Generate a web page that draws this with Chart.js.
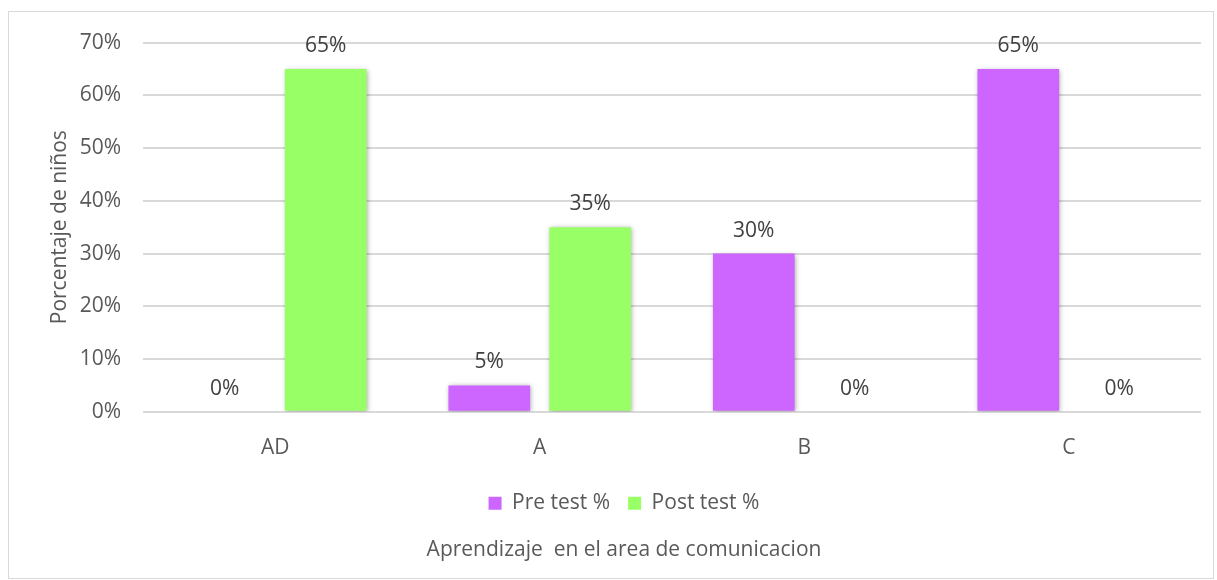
<!DOCTYPE html>
<html>
<head>
<meta charset="utf-8">
<script src="https://cdn.jsdelivr.net/npm/chart.js@4"></script>
<style>
  body { margin: 0; background: #fff; }
  #box {
    position: absolute; left: 8px; top: 11px;
    width: 1204px; height: 566px;
    border: 1px solid #d9d9d9;
  }
  #box canvas { display: block; position: relative; top: -4px; }
</style>
</head>
<body>
<div id="box"><canvas id="chart" width="1204" height="566"></canvas></div>
<script>
// chart data
const categories = ['AD', 'A', 'B', 'C'];
const preTest = [0, 5, 30, 65];
const postTest = [65, 35, 0, 0];
const seriesNames = ['Pre test %', 'Post test %'];
const yTitle = 'Porcentaje de niños';
const xTitle = 'Aprendizaje  en el area de comunicacion';

const FONT = "'Open Sans', sans-serif";
const FSIZE = 21;
const textGrey = '#595959';

// soft shadow under the bars, like the office chart
const barShadow = {
  id: 'barShadow',
  beforeDatasetsDraw(chart) {
    const ctx = chart.ctx;
    ctx.save();
    ctx.shadowColor = 'rgba(0,0,0,0.35)';
    ctx.shadowBlur = 5;
    ctx.shadowOffsetX = 1;
    ctx.shadowOffsetY = 1;
  },
  afterDatasetsDraw(chart) {
    chart.ctx.restore();
  }
};

// value labels above each bar
const valueLabels = {
  id: 'valueLabels',
  afterDraw(chart) {
    const ctx = chart.ctx;
    ctx.save();
    ctx.font = FSIZE + 'px ' + FONT;
    ctx.fillStyle = '#404040';
    ctx.textAlign = 'center';
    ctx.textBaseline = 'middle';
    chart.data.datasets.forEach((ds, i) => {
      chart.getDatasetMeta(i).data.forEach((bar, j) => {
        ctx.fillText(ds.data[j] + '%', bar.x, bar.y - 23);
      });
    });
    ctx.restore();
  }
};

new Chart(document.getElementById('chart'), {
  type: 'bar',
  data: {
    labels: categories,
    datasets: [
      { label: seriesNames[0], data: preTest, backgroundColor: '#cc66ff' },
      { label: seriesNames[1], data: postTest, backgroundColor: '#99ff66' }
    ]
  },
  options: {
    responsive: false,
    animation: false,
    layout: { padding: { left: 38, right: 12, top: 18, bottom: 5 } },
    datasets: {
      bar: { categoryPercentage: 0.763, barPercentage: 0.81 }
    },
    scales: {
      x: {
        grid: { display: false },
        border: { display: false },
        ticks: { color: textGrey, font: { family: FONT, size: FSIZE }, padding: 16 },
        afterFit(scale) { scale.height = 63; }
      },
      y: {
        z: 1,
        min: 0,
        max: 70,
        ticks: {
          stepSize: 10,
          color: textGrey,
          padding: 22,
          font: { family: FONT, size: FSIZE },
          callback: v => v + '%'
        },
        grid: { color: '#d9d9d9', lineWidth: 2, drawTicks: false },
        border: { display: false },
        title: {
          display: true,
          text: yTitle,
          color: textGrey,
          font: { family: FONT, size: FSIZE },
          padding: { top: 0, bottom: 4 }
        },
        afterFit(scale) { scale.width = 96; }
      }
    },
    plugins: {
      legend: {
        position: 'bottom',
        labels: {
          color: textGrey,
          font: { family: FONT, size: FSIZE },
          boxWidth: 13,
          boxHeight: 13,
          padding: 18
        }
      },
      title: {
        display: true,
        position: 'bottom',
        text: xTitle,
        color: textGrey,
        font: { family: FONT, size: FSIZE, weight: 'normal' },
        padding: { top: 14, bottom: 6 }
      },
      tooltip: { enabled: false }
    }
  },
  plugins: [barShadow, valueLabels]
});
</script>
</body>
</html>
